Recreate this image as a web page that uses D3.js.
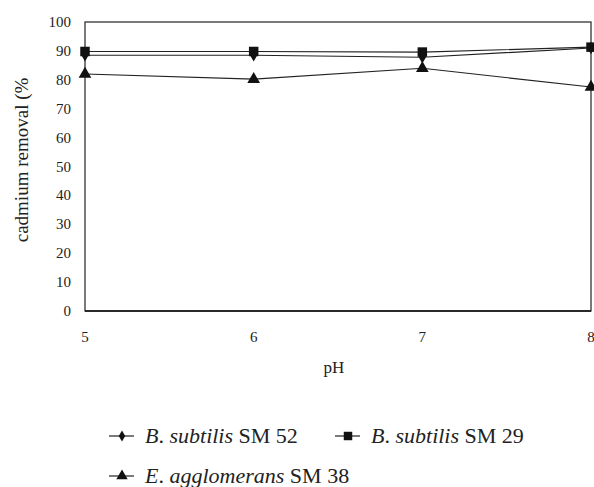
<!DOCTYPE html>
<html><head><meta charset="UTF-8"><script src="https://d3js.org/d3.v7.min.js"></script></head>
<body style="margin:0">
<script>
const phValues = [5, 6, 7, 8];
const sm52 = [88.5, 88.5, 87.8, 91];
const sm29 = [89.8, 89.8, 89.6, 91.3];
const sm38 = [82, 80.2, 84, 77.5];
const yTicks = [0, 10, 20, 30, 40, 50, 60, 70, 80, 90, 100];
const seriesNames = ['B. subtilis SM 52', 'B. subtilis SM 29', 'E. agglomerans SM 38'];

const W = 594, H = 487;
const FONT = 'Liberation Serif';
const m = { left: 85, right: 3, top: 22, bottom: 176 };
const svg = d3.select('body').append('svg').attr('width', W).attr('height', H)
  .style('font-family', FONT);

const x = d3.scaleLinear().domain([5, 8]).range([m.left, W - m.right]);
const y = d3.scaleLinear().domain([0, 100]).range([H - m.bottom, m.top]);

// frame
svg.append('rect')
  .attr('x', x(5)).attr('y', y(100))
  .attr('width', x(8) - x(5)).attr('height', y(0) - y(100))
  .attr('fill', 'none').attr('stroke', '#222').attr('stroke-width', 1.2);
svg.append('line').attr('x1', x(5)).attr('x2', x(8)).attr('y1', y(0)).attr('y2', y(0))
  .attr('stroke', '#111').attr('stroke-width', 1.6);

// tick labels
svg.selectAll('text.yt').data(yTicks).enter().append('text').attr('class', 'yt')
  .style('font-family', FONT).attr('fill', '#222')
  .attr('x', x(5) - 14).attr('y', d => y(d) + 5)
  .attr('text-anchor', 'end').attr('font-size', 15).text(d => d);
svg.selectAll('text.xt').data(phValues).enter().append('text').attr('class', 'xt')
  .style('font-family', FONT).attr('fill', '#222')
  .attr('x', d => x(d)).attr('y', y(0) + 31)
  .attr('text-anchor', 'middle').attr('font-size', 15).text(d => d);

svg.append('text').style('font-family', FONT).attr('fill', '#222')
  .attr('x', 334).attr('y', 373).attr('text-anchor', 'middle')
  .attr('font-size', 17).text('pH');
svg.append('text').style('font-family', FONT).attr('fill', '#222')
  .attr('transform', 'translate(28,160) rotate(-90)')
  .attr('text-anchor', 'middle').attr('font-size', 19).text('cadmium removal (%');

const line = d3.line().x((d, i) => x(phValues[i])).y(d => y(d));
const shapes = [d3.symbolDiamond, d3.symbolSquare, d3.symbolTriangle];
const sizes = [45, 90, 70];
[sm52, sm29, sm38].forEach((s, k) => {
  svg.append('path').datum(s).attr('d', line)
    .attr('fill', 'none').attr('stroke', '#222').attr('stroke-width', 1.2);
  svg.selectAll('path.m' + k).data(s).enter().append('path').attr('class', 'm' + k)
    .attr('transform', (d, i) => `translate(${x(phValues[i])},${y(d)})`)
    .attr('d', d3.symbol().type(shapes[k]).size(sizes[k]))
    .attr('fill', '#111');
});

// legend
const leg = [
  { x: 109, y: 443 }, { x: 335, y: 443 }, { x: 109, y: 483 }
];
leg.forEach((p, k) => {
  svg.append('line').attr('x1', p.x).attr('x2', p.x + 25).attr('y1', p.y - 7).attr('y2', p.y - 7)
    .attr('stroke', '#222').attr('stroke-width', 1.2);
  svg.append('path').attr('transform', `translate(${p.x + 13},${p.y - 7})`)
    .attr('d', d3.symbol().type(shapes[k]).size(sizes[k] * 0.8)).attr('fill', '#111');
  const parts = seriesNames[k].split(' ');
  const t = svg.append('text').style('font-family', FONT).attr('fill', '#222')
    .attr('x', p.x + 36).attr('y', p.y).attr('font-size', 22);
  t.append('tspan').style('font-style', 'italic').text(parts[0].replace('.', ''));
  t.append('tspan').text('. ');
  t.append('tspan').style('font-style', 'italic').text(parts[1]);
  t.append('tspan').text(' ' + parts.slice(2).join(' '));
});
</script>
</body>
</html>
